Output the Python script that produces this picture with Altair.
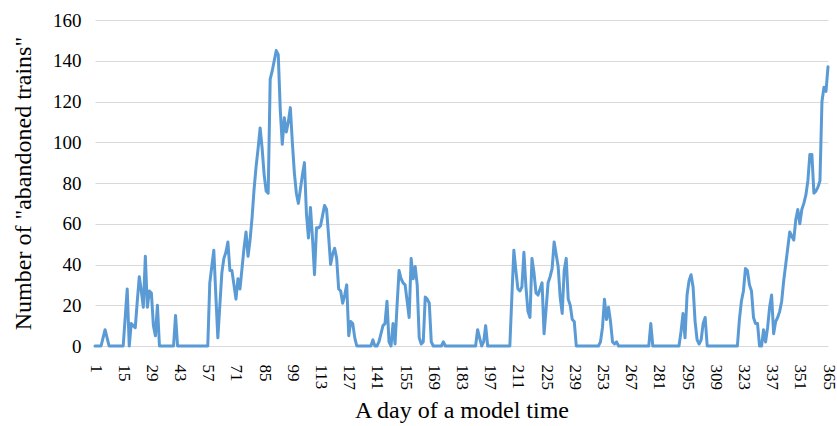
import altair as alt
import pandas as pd

# Daily counts of abandoned trains over the modelled year, split into blocks of 70 days
days_001_070 = [
    0, 0, 0, 0, 4, 8, 4, 0, 0, 0,
    0, 0, 0, 0, 0, 14, 28, 0, 11, 10,
    9, 22, 34, 27, 19, 44, 19, 27, 26, 10,
    5, 20, 0, 0, 0, 0, 0, 0, 0, 0,
    15, 0, 0, 0, 0, 0, 0, 0, 0, 0,
    0, 0, 0, 0, 0, 0, 0, 31, 39, 47,
    25, 4, 20, 36, 43, 46, 51, 37, 37, 30,
]
days_071_140 = [
    23, 33, 28, 38, 48, 56, 44, 52, 63, 77,
    88, 97, 107, 97, 84, 76, 75, 131, 135, 140,
    145, 143, 116, 99, 112, 105, 110, 117, 100, 85,
    75, 70, 77, 84, 90, 65, 53, 68, 53, 35,
    58, 58, 59, 64, 69, 67, 54, 40, 45, 48,
    43, 28, 27, 21, 25, 30, 5, 12, 11, 4,
    0, 0, 0, 0, 0, 0, 0, 0, 3, 0,
]
days_141_210 = [
    0, 2, 6, 10, 11, 22, 2, 0, 11, 1,
    20, 37, 33, 31, 30, 22, 14, 43, 33, 39,
    30, 4, 1, 2, 24, 23, 21, 2, 0, 0,
    0, 0, 0, 2, 0, 0, 0, 0, 0, 0,
    0, 0, 0, 0, 0, 0, 0, 0, 0, 0,
    8, 4, 0, 2, 10, 0, 0, 0, 0, 0,
    0, 0, 0, 0, 0, 0, 0, 24, 47, 37,
]
days_211_280 = [
    28, 27, 29, 46, 29, 17, 14, 43, 36, 26,
    25, 28, 31, 6, 18, 31, 34, 38, 51, 45,
    39, 24, 16, 37, 43, 23, 20, 13, 12, 0,
    0, 0, 0, 0, 0, 0, 0, 0, 0, 0,
    0, 2, 9, 23, 13, 19, 12, 2, 1, 2,
    0, 0, 0, 0, 0, 0, 0, 0, 0, 0,
    0, 0, 0, 0, 0, 0, 11, 0, 0, 0,
]
days_281_365 = [
    0, 0, 0, 0, 0, 0, 0, 0, 0, 0,
    0, 7, 16, 4, 25, 32, 35, 29, 12, 3,
    1, 3, 11, 14, 0, 0, 0, 0, 0, 0,
    0, 0, 0, 0, 0, 0, 0, 0, 0, 0,
    13, 22, 27, 38, 37, 30, 27, 14, 11, 11,
    0, 0, 8, 2, 9, 19, 25, 6, 12, 14,
    17, 22, 32, 40, 48, 56, 54, 52, 62, 67,
    60, 67, 70, 74, 81, 94, 94, 75, 76, 78,
    81, 120, 127, 125, 137,
]

x_ticks = list(range(1, 366, 14))
y_ticks = list(range(0, 161, 20))

values = days_001_070 + days_071_140 + days_141_210 + days_211_280 + days_281_365
df = pd.DataFrame({"day": list(range(1, len(values) + 1)), "trains": values})

FONT = "Liberation Serif"

chart = (
    alt.Chart(df)
    .mark_line(color="#5B9BD5", strokeWidth=3, strokeJoin="round", strokeCap="round")
    .encode(
        x=alt.X(
            "day:Q",
            scale=alt.Scale(domain=[1, 365], nice=False, zero=False),
            axis=alt.Axis(
                values=x_ticks,
                title="A day of a model time",
                labelAngle=90,
                labelAlign="left",
                labelBaseline="middle",
                labelFlush=False,
                labelOverlap=False,
                labelPadding=18,
                labelFontSize=17,
                titleFontSize=24,
                titlePadding=9,
                ticks=False,
                domain=False,
                grid=False,
            ),
        ),
        y=alt.Y(
            "trains:Q",
            scale=alt.Scale(domain=[0, 160], nice=False),
            axis=alt.Axis(
                values=y_ticks,
                title='Number of "abandoned trains"',
                labelPadding=14,
                labelFontSize=19,
                titleFontSize=24,
                titlePadding=17,
                ticks=False,
                domain=False,
                grid=True,
                gridColor="#D9D9D9",
                gridWidth=1.2,
            ),
        ),
    )
    .properties(
        width=733,
        height=326,
        autosize=alt.AutoSizeParams(type="none"),
        padding={"left": 95, "top": 20, "right": 9, "bottom": 80},
    )
    .configure_axis(
        labelFont=FONT,
        titleFont=FONT,
        labelColor="#000000",
        titleColor="#000000",
        titleFontWeight="normal",
    )
    .configure_view(stroke=None)
)

chart.save("out.html", embed_options={"renderer": "svg", "actions": False})
